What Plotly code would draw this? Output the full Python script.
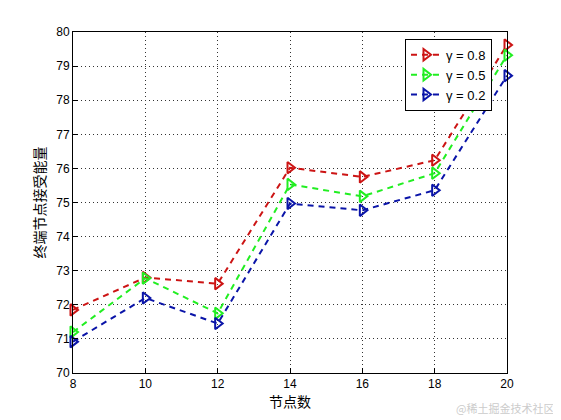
import plotly.graph_objects as go

# node counts on the x axis
nodes = [8, 10, 12, 14, 16, 18, 20]

# received energy for each gamma
energy_g08 = [71.85, 72.8, 72.62, 76.02, 75.75, 76.24, 79.62]
energy_g05 = [71.2, 72.78, 71.75, 75.53, 75.18, 75.86, 79.32]
energy_g02 = [70.92, 72.2, 71.45, 74.97, 74.77, 75.36, 78.72]

series_names = ["γ = 0.8", "γ = 0.5", "γ = 0.2"]
series_colors = ["#cc1414", "#22ee22", "#0a14a8"]

fig = go.Figure()
for name, values, color in zip(series_names, [energy_g08, energy_g05, energy_g02], series_colors):
    fig.add_trace(go.Scatter(
        x=nodes,
        y=values,
        name=name,
        mode="lines+markers",
        line=dict(color=color, width=2, dash="6px,5px"),
        marker=dict(symbol="triangle-right-open", size=10, color=color,
                    line=dict(width=2, color=color)),
        cliponaxis=False,
    ))

axis_style = dict(
    showline=True,
    linecolor="black",
    linewidth=1,
    mirror=True,
    ticks="inside",
    ticklen=5,
    tickcolor="black",
    showgrid=True,
    gridcolor="#333333",
    griddash="1px,3px",
    gridwidth=1,
    zeroline=False,
    tickfont=dict(family="Arial, Liberation Sans", size=12, color="black"),
)

fig.update_xaxes(range=[8, 20], tickvals=nodes, **axis_style,
                 title=dict(text="节点数", font=dict(family="Noto Sans CJK SC", size=14, color="black"),
                            standoff=2))
fig.update_yaxes(range=[70, 80], dtick=1, **axis_style,
                 title=dict(text="终端节点接受能量", font=dict(family="Noto Sans CJK SC", size=14, color="black"),
                            standoff=7))

fig.update_layout(
    width=561,
    height=420,
    margin=dict(l=65, r=62, t=24, b=55),
    paper_bgcolor="white",
    plot_bgcolor="white",
    showlegend=True,
    legend=dict(
        x=0.765, y=0.98, xanchor="left", yanchor="top",
        bgcolor="white",
        bordercolor="black",
        borderwidth=1,
        font=dict(family="Arial, Liberation Sans", size=13, color="black"),
        tracegroupgap=0,
    ),
    annotations=[dict(
        text="@稀土掘金技术社区", x=1.0, y=0.0, xref="paper", yref="paper",
        xanchor="right", yanchor="middle", xshift=49, yshift=-35, showarrow=False,
        font=dict(family="Noto Sans CJK SC", size=11, color="#cccccc"),
    )],
)

fig.write_html("out.html")
